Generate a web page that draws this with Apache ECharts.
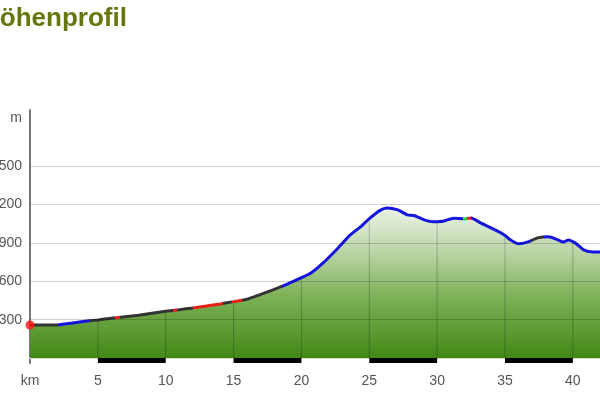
<!DOCTYPE html>
<html><head><meta charset="utf-8">
<script src="https://cdn.jsdelivr.net/npm/echarts@6/dist/echarts.min.js"></script>
<style>html,body{margin:0;padding:0;background:#fff}#c{width:600px;height:400px}</style>
</head><body><div id="c"></div>
<script>
// distance (km) and elevation (m)
var km = [0,1,2,3,4,5,6,7,8,9,10,11,12,13,14,15,16,17,18,19,20,20.7,21.6,22.7,23.6,24.4,25,25.8,26.3,27.1,27.8,28.3,29,29.7,30,30.5,31.2,32,32.5,33.2,34,34.7,35,35.4,36,36.7,37.4,38.2,38.9,39.3,39.7,40,40.3,40.8,41.5,42];
var elev = [258,258,259,272,287,298,311,323,335,350,365,378,392,407,423,441,460,498,537,580,628,665,744,861,963,1030,1090,1155,1174,1159,1120,1115,1082,1065,1066,1072,1094,1088,1096,1057,1016,979,958,924,893,908,940,948,924,908,924,910,890,846,830,830];
// line colour by section [from km, to km, colour]
var sections = [[0,2.1,'#333'],[2.1,4.4,'#1515e0'],[4.4,6.3,'#333'],[6.3,6.6,'#e8201a'],[6.6,10.5,'#333'],[10.5,10.8,'#e8201a'],[10.8,12,'#333'],[12,14.2,'#e8201a'],[14.2,14.9,'#333'],[14.9,15.6,'#e8201a'],[15.6,18.6,'#333'],[18.6,31.9,'#1515e0'],[31.9,32.2,'#30d030'],[32.2,32.5,'#e8201a'],[32.5,36.9,'#1515e0'],[36.9,37.9,'#333'],[37.9,50,'#1515e0']];
var yTicks = [300,600,900,1200,1500];
var scaleBars = [[5,10],[15,20],[25,30],[35,40]];

var profile = km.map(function(k,i){return [k,elev[i]];});
var gridX = profile.filter(function(p){return p[0]>0 && p[0]%5===0;});

var chart = echarts.init(document.getElementById('c'));
chart.setOption({
  animation:false,
  title:{text:'Höhenprofil',left:-24,top:1,textStyle:{fontFamily:'Liberation Sans, Arial',fontSize:26,fontWeight:'bold',color:'#65780f'}},
  grid:[{left:30,right:0,top:110,bottom:42,containLabel:false,outerBoundsMode:'none'},{left:30,right:0,top:358,height:5,containLabel:false,outerBoundsMode:'none'}],
  xAxis:[{type:'value',min:0,max:42,interval:5,gridIndex:0,
    axisLine:{show:false},axisTick:{show:false},splitLine:{show:false},
    axisLabel:{margin:16,showMaxLabel:false,color:'#555',fontSize:14,fontFamily:'Liberation Sans, Arial',formatter:function(v){return v===0?'km':v;}}},
    {type:'value',min:0,max:42,gridIndex:1,axisLine:{show:true,onZero:false,lineStyle:{color:'#ddd',width:2}},position:'top',axisTick:{show:false},axisLabel:{show:false},splitLine:{show:false}}],
  yAxis:[{type:'value',min:0,max:1940,interval:300,gridIndex:0,name:'m',nameLocation:'end',nameGap:-8,
    nameTextStyle:{align:'right',verticalAlign:'middle',padding:[0,8,0,0],color:'#555',fontSize:14,fontFamily:'Liberation Sans, Arial'},
    axisLine:{show:true,lineStyle:{color:'#777',width:2}},axisTick:{show:false},splitLine:{show:false},
    axisLabel:{margin:8,color:'#555',fontSize:14,fontFamily:'Liberation Sans, Arial',formatter:function(v){return (v<300||v>1500)?'':v;}}},
    {type:'value',min:0,max:1,gridIndex:1,axisLine:{show:true,lineStyle:{color:'#777',width:2}},axisTick:{show:false},axisLabel:{show:false},splitLine:{show:false}}],
  visualMap:{type:'piecewise',show:false,dimension:0,seriesIndex:2,
    pieces:sections.map(function(s){return {gte:s[0],lt:s[1],color:s[2]};})},
  series:[
    {type:'line',data:profile,showSymbol:false,smooth:0.2,lineStyle:{width:0},z:1,
      areaStyle:{opacity:1,color:new echarts.graphic.LinearGradient(0,205,0,358,[
        {offset:0,color:'#eef4ea'},{offset:0.3,color:'#bcd6a8'},{offset:0.6,color:'#7cb156'},{offset:1,color:'#438916'}],true)}},
    {type:'bar',data:gridX,barWidth:1,z:2,itemStyle:{color:'rgba(0,0,0,0.22)'},
      markLine:{silent:true,symbol:'none',label:{show:false},lineStyle:{type:'solid',color:'rgba(0,0,0,0.18)',width:1},
        data:yTicks.map(function(t){return {yAxis:t};})}},
    {type:'line',data:profile,showSymbol:false,smooth:0.2,lineStyle:{width:3},z:4},
    {type:'scatter',data:[profile[0]],symbolSize:9,itemStyle:{color:'#ff1010'},z:5},
    {type:'line',xAxisIndex:1,yAxisIndex:1,data:[[0,0]],showSymbol:false,lineStyle:{width:0},
      markArea:{silent:true,itemStyle:{color:'#000'},data:scaleBars.map(function(b){return [{xAxis:b[0]},{xAxis:b[1]}];})}}
  ]
});
</script></body></html>
